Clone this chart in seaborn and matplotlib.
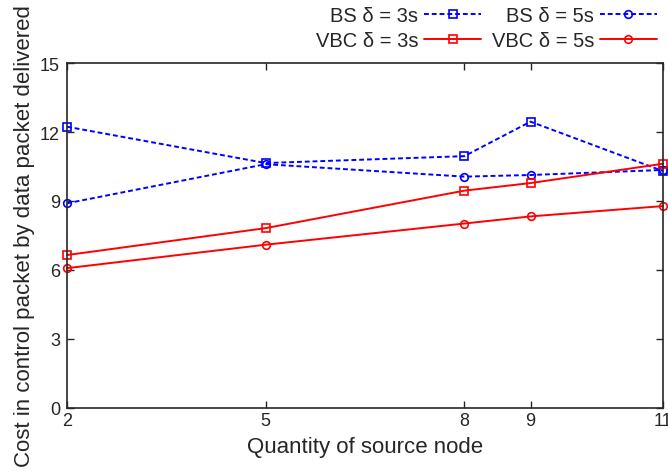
import numpy as np
import pandas as pd
import matplotlib
matplotlib.use("Agg")
import matplotlib.pyplot as plt
import seaborn as sns

# --- data ---
nodes = [2, 5, 8, 9, 11]
bs_3s = [12.23, 10.65, 10.95, 12.45, 10.30]
bs_5s = [8.90, 10.60, 10.06, 10.13, 10.35]
vbc_3s = [6.65, 7.82, 9.45, 9.78, 10.62]
vbc_5s = [6.08, 7.10, 8.02, 8.33, 8.78]

labels = ["BS δ = 3s", "BS δ = 5s", "VBC δ = 3s", "VBC δ = 5s"]
x_ticks = [2, 5, 8, 9, 11]
y_ticks = [0, 3, 6, 9, 12, 15]

sns.set_style("ticks")
plt.rcParams['font.family'] = ['Liberation Sans', 'DejaVu Sans']
plt.rcParams['xtick.direction'] = 'in'
plt.rcParams['ytick.direction'] = 'in'

fig = plt.figure(figsize=(6.68, 4.77), dpi=100)
ax = fig.add_axes([0.1003, 0.1426, 0.8922, 0.7232])

styles = [
    dict(color='blue', marker='s', ls=(0, (2.5, 1.5))),
    dict(color='blue', marker='o', ls=(0, (2.5, 1.5))),
    dict(color='red', marker='s', ls='-'),
    dict(color='red', marker='o', ls='-'),
]

for vals, lab, st in zip([bs_3s, bs_5s, vbc_3s, vbc_5s], labels, styles):
    df = pd.DataFrame({'x': nodes, 'y': vals})
    sns.lineplot(data=df, x='x', y='y', ax=ax, color=st['color'],
                 marker=st['marker'], markersize=5.5, markerfacecolor='none',
                 markeredgecolor=st['color'], markeredgewidth=1.2,
                 linestyle=st['ls'], linewidth=1.4, label=lab, clip_on=False)

ax.set_xlim(2, 11)
ax.set_ylim(0, 15)
ax.set_xticks(x_ticks)
ax.set_yticks(y_ticks)
ax.tick_params(axis='both', labelsize=13, length=5, width=1,
               top=True, right=True)
ax.tick_params(axis='y', pad=5)
ax.tick_params(axis='x', pad=3)
for sp in ax.spines.values():
    sp.set_visible(True)
    sp.set_linewidth(1.2)

ax.set_xlabel("Quantity of source node", fontsize=16, labelpad=5)
ax.set_ylabel("Cost in control packet by data packet delivered", fontsize=16, labelpad=4)

# row-wise legend order: BS 3s, BS 5s / VBC 3s, VBC 5s
h, l = ax.get_legend_handles_labels()
order = [0, 2, 1, 3]
ax.legend([h[i] for i in order], [l[i] for i in order],
          loc='upper right', bbox_to_anchor=(0.983, 0.986), bbox_transform=fig.transFigure,
          ncol=2, frameon=False, markerfirst=False, fontsize=14.5,
          handlelength=2.8, handletextpad=0.3, columnspacing=0.55,
          labelspacing=0.3, borderpad=0, borderaxespad=0)

fig.savefig("out.png", dpi=100)
